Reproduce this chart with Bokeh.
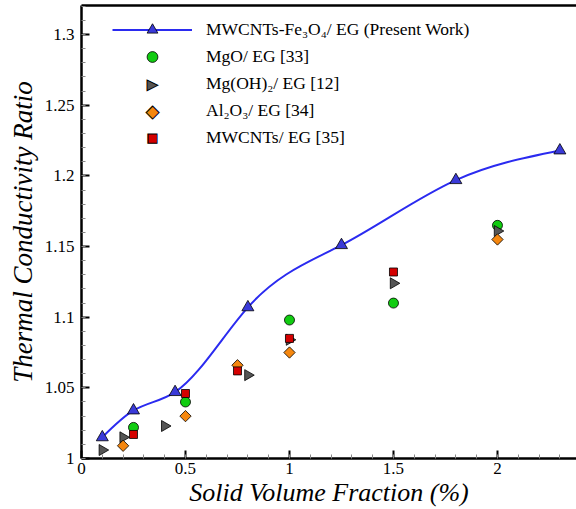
import numpy as np
from bokeh.plotting import figure
from bokeh.models import (LinearAxis, Legend, LegendItem, CustomJSTickFormatter,
                          SingleIntervalTicker, FixedTicker, Range1d, Label)
from bokeh.embed import file_html
from bokeh.resources import INLINE

# ---- data ----
present_x = [0.1, 0.25, 0.45, 0.8, 1.25, 1.8, 2.3]
present_y = [1.015, 1.034, 1.047, 1.107, 1.151, 1.197, 1.218]
mgo_x = [0.25, 0.5, 1.0, 1.5, 2.0]
mgo_y = [1.022, 1.040, 1.098, 1.110, 1.165]
mgoh_x = [0.1, 0.2, 0.4, 0.8, 1.0, 1.5, 2.0]
mgoh_y = [1.006, 1.015, 1.023, 1.059, 1.084, 1.124, 1.161]
al_x = [0.2, 0.5, 0.75, 1.0, 2.0]
al_y = [1.009, 1.030, 1.066, 1.075, 1.155]
mw_x = [0.25, 0.5, 0.75, 1.0, 1.5]
mw_y = [1.017, 1.046, 1.062, 1.085, 1.132]

labels = ["MWCNTs-Fe\u2083O\u2084/ EG (Present Work)", "MgO/ EG [33]",
          "Mg(OH)\u2082/ EG [12]", "Al\u2082O\u2083/ EG [34]", "MWCNTs/ EG [35]"]

FONT = "Liberation Serif"
GRAY = "#555555"
ORANGE = "#f5870f"
RED = "#d40000"

p = figure(width=576, height=509, x_range=Range1d(0, 2.38), y_range=Range1d(1, 1.3206),
           output_backend="svg", toolbar_location=None,
           min_border_left=81, min_border_right=0, min_border_top=5, min_border_bottom=50,
           x_axis_label="Solid Volume Fraction (%)", y_axis_label="Thermal Conductivity Ratio")
p.grid.visible = False
p.outline_line_color = None
p.background_fill_color = "white"

fmt = "return String(Number(tick.toFixed(3)));"
p.xaxis.ticker = SingleIntervalTicker(interval=0.5, num_minor_ticks=5)
p.yaxis.ticker = SingleIntervalTicker(interval=0.05, num_minor_ticks=5)
for ax in (p.xaxis[0], p.yaxis[0]):
    ax.formatter = CustomJSTickFormatter(code=fmt)
    ax.axis_line_width = 2.5
    ax.axis_line_color = "black"
    ax.major_tick_in = 8
    ax.major_tick_out = 0
    ax.minor_tick_in = 4
    ax.minor_tick_out = 0
    ax.major_tick_line_width = 2
    ax.major_tick_line_color = "black"
    ax.minor_tick_line_color = "#888888"
    ax.minor_tick_line_width = 1
    ax.major_label_text_font = FONT
    ax.major_label_text_font_size = "17px"
    ax.major_label_text_color = "black"
    ax.axis_label_text_font = FONT
    ax.axis_label_text_font_style = "italic"
    ax.axis_label_text_color = "black"
p.xaxis.axis_label_text_font_size = "26px"
p.yaxis.axis_label_text_font_size = "27px"
p.xaxis.major_label_standoff = 4
p.xaxis.axis_label_standoff = 1
p.yaxis.major_label_standoff = 7
p.yaxis.axis_label_standoff = 4

top = LinearAxis(ticker=FixedTicker(ticks=[]), axis_line_width=2.5, axis_line_color="black",
                 major_tick_in=0, major_tick_out=0, minor_tick_in=0, minor_tick_out=0)
p.add_layout(top, "above")

# ---- natural cubic spline through present-work points, drawn as bezier segments ----
xs = np.asarray(present_x, float)
ys = np.asarray(present_y, float)
n = len(xs)
h = np.diff(xs)
A = np.zeros((n, n)); b = np.zeros(n)
A[0, 0] = 1; A[-1, -1] = 1
for i in range(1, n - 1):
    A[i, i - 1] = h[i - 1]; A[i, i] = 2 * (h[i - 1] + h[i]); A[i, i + 1] = h[i]
    b[i] = 6 * ((ys[i + 1] - ys[i]) / h[i] - (ys[i] - ys[i - 1]) / h[i - 1])
M = np.linalg.solve(A, b)
m = np.zeros(n)
for i in range(n - 1):
    m[i] = (ys[i + 1] - ys[i]) / h[i] - h[i] * (2 * M[i] + M[i + 1]) / 6
m[-1] = (ys[-1] - ys[-2]) / h[-1] + h[-1] * (M[-2] + 2 * M[-1]) / 6

LINE_COLOR = "#2b2bf0"
p.bezier(x0=xs[:-1], y0=ys[:-1], x1=xs[1:], y1=ys[1:],
         cx0=xs[:-1] + h / 3, cy0=ys[:-1] + m[:-1] * h / 3,
         cx1=xs[1:] - h / 3, cy1=ys[1:] - m[1:] * h / 3,
         line_color=LINE_COLOR, line_width=2)
leg_line = p.line(x=[np.nan], y=[np.nan], line_color=LINE_COLOR, line_width=2)
blank = p.scatter(x=[np.nan], y=[np.nan], size=1, fill_alpha=0, line_alpha=0)

r0 = p.scatter(present_x, present_y, marker="triangle", size=12,
               fill_color="#3a3ad8", line_color="black", line_width=0.8)
r1 = p.scatter(mgo_x, mgo_y, marker="circle", size=10,
               fill_color="#11cc11", line_color="black", line_width=0.8)
r2 = p.scatter(mgoh_x, mgoh_y, marker="triangle", angle=-np.pi / 2, size=11,
               fill_color=GRAY, line_color="black", line_width=0.8)
r3 = p.scatter(al_x, al_y, marker="square", angle=np.pi / 4, size=8,
               fill_color=ORANGE, line_color="black", line_width=0.8)
r4 = p.scatter(mw_x, mw_y, marker="square", size=8,
               fill_color=RED, line_color="black", line_width=0.8)

ROW = 27
LEG_X = 31
LEG_BOTTOM = 307
legend = Legend(items=[LegendItem(label=labels[0], renderers=[leg_line, r0]),
                       LegendItem(label=labels[1], renderers=[r1]),
                       LegendItem(label=labels[2], renderers=[blank]),
                       LegendItem(label=labels[3], renderers=[blank]),
                       LegendItem(label=labels[4], renderers=[blank])],
                location=(LEG_X, LEG_BOTTOM), border_line_color=None, background_fill_alpha=0,
                label_text_font=FONT, label_text_font_size="17.5px", label_text_color="black",
                glyph_width=80, glyph_height=ROW, label_height=ROW, spacing=0,
                label_standoff=14, padding=0, margin=0)
p.add_layout(legend)

# legend symbols for markers the legend cannot draw rotated / at their own size
for row, ch, col, fs in [(2, "\u25B6", GRAY, "14px"), (3, "\u25C6", ORANGE, "17px"),
                         (4, "\u25A0", RED, "12px")]:
    cy = LEG_BOTTOM + ROW * (5 - row) - ROW / 2
    p.add_layout(Label(x=LEG_X + 40, y=cy, x_units="screen", y_units="screen", text=ch,
                       text_font="DejaVu Sans", text_font_size=fs, text_color=col,
                       text_align="center", text_baseline="middle",
                       text_outline_color="black"))

open("out.html", "w").write(file_html(p, INLINE))
